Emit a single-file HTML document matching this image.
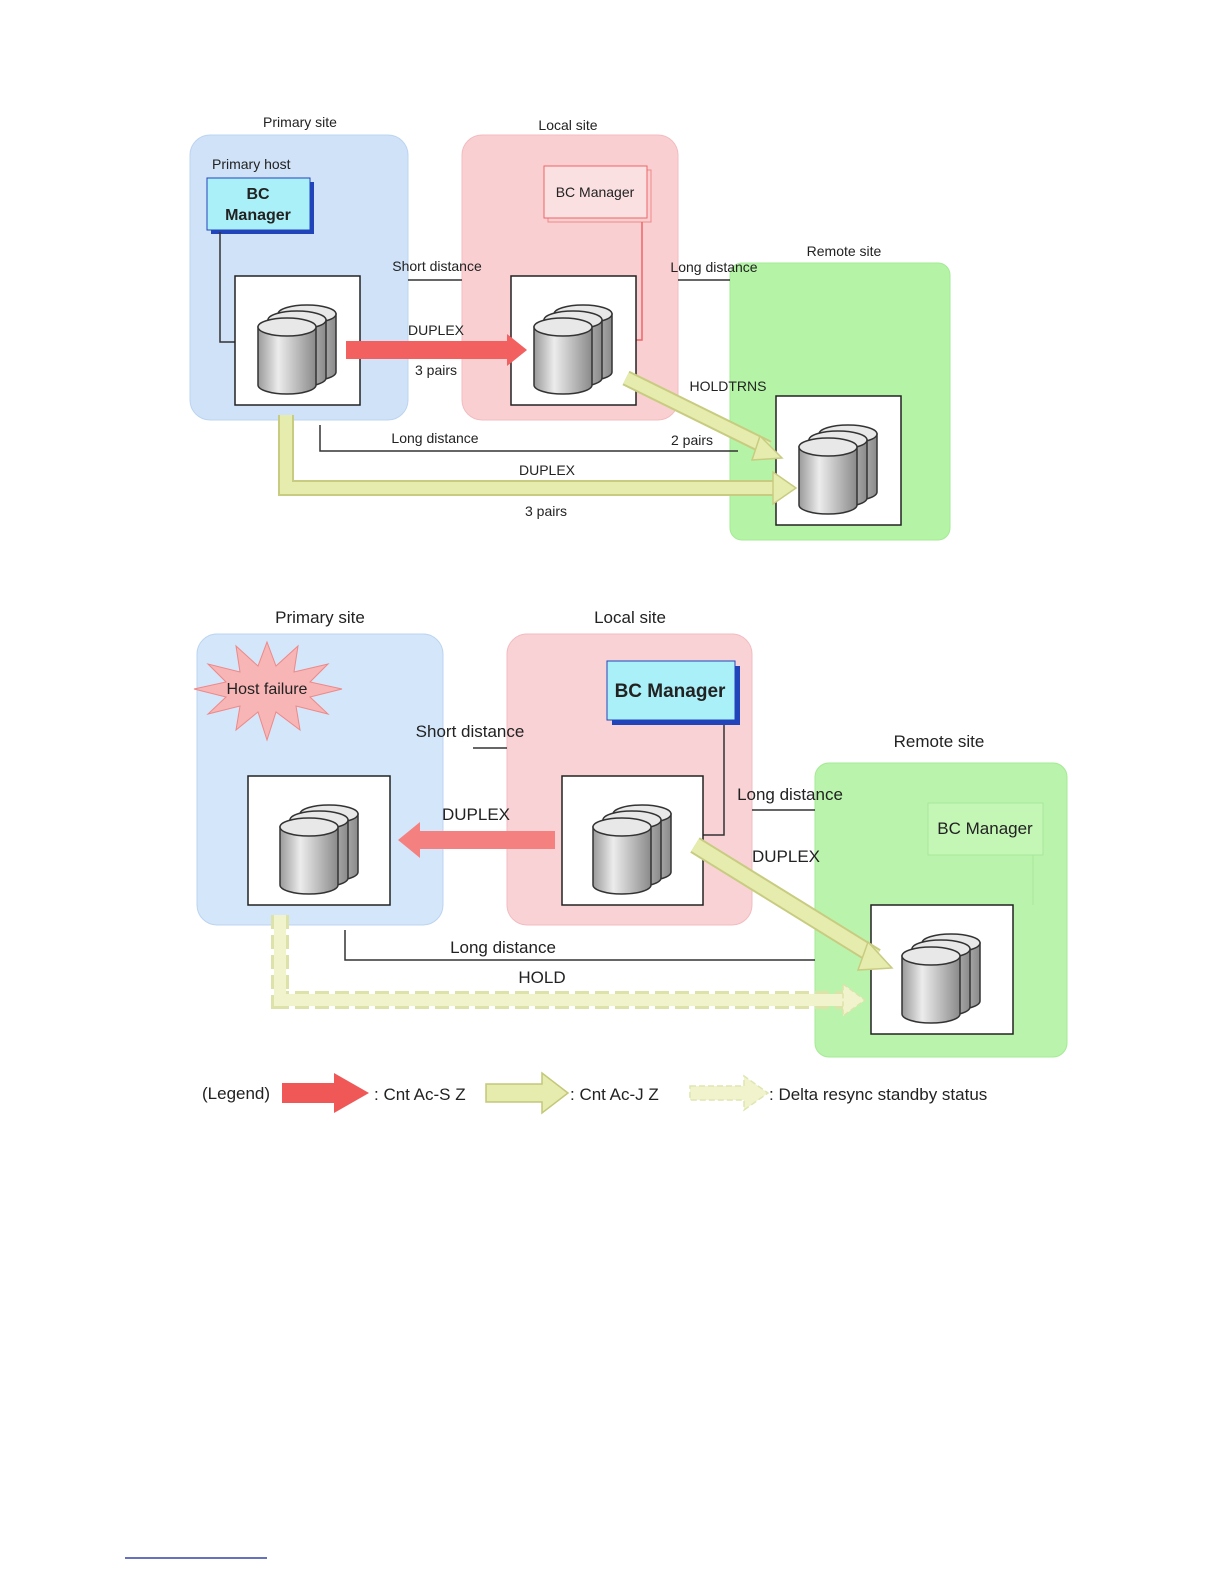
<!DOCTYPE html>
<html><head><meta charset="utf-8"><style>
html,body{margin:0;padding:0;background:#fff;overflow:hidden;width:1224px;height:1584px}
svg{display:block}
text{font-family:"Liberation Sans",sans-serif;fill:#222}
</style></head><body>
<svg width="1224" height="1584" viewBox="0 0 1224 1584" xmlns="http://www.w3.org/2000/svg">
<defs>
<linearGradient id="cg" x1="0" x2="1" y1="0" y2="0">
<stop offset="0" stop-color="#9a9a9a"/><stop offset="0.35" stop-color="#ececec"/><stop offset="1" stop-color="#8a8a8a"/>
</linearGradient>
<g id="cyl">
<path d="M0,0 L0,58 A29,9 0 0 0 58,58 L58,0 Z" fill="url(#cg)" stroke="#333" stroke-width="1.5"/>
<ellipse cx="29" cy="0" rx="29" ry="9" fill="#e8e8e8" stroke="#333" stroke-width="1.5"/>
</g>
<g id="disks">
<use href="#cyl" x="43" y="38"/>
<use href="#cyl" x="33" y="44"/>
<use href="#cyl" x="23" y="51"/>
</g>
</defs>

<!-- ===== TOP DIAGRAM ===== -->
<rect x="190" y="135" width="218" height="285" rx="20" fill="#cfe2f8" stroke="#bcd4f0"/>
<rect x="462" y="135" width="216" height="285" rx="20" fill="#f9cfd2" stroke="#f2bcc0"/>
<rect x="730" y="263" width="220" height="277" rx="12" fill="#b5f4a6" stroke="#a4ea94"/>
<text x="300" y="127" font-size="14" text-anchor="middle">Primary site</text>
<text x="568" y="130" font-size="14" text-anchor="middle">Local site</text>
<text x="844" y="256" font-size="14" text-anchor="middle">Remote site</text>
<text x="212" y="169" font-size="14">Primary host</text>
<rect x="211" y="182" width="103" height="52" fill="#2244bb"/>
<rect x="207" y="178" width="103" height="52" fill="#aaf0f8" stroke="#2244bb"/>
<text x="258" y="199" font-size="16" font-weight="bold" text-anchor="middle">BC</text>
<text x="258" y="220" font-size="16" font-weight="bold" text-anchor="middle">Manager</text>
<polyline points="220,232 220,342 235,342" fill="none" stroke="#333" stroke-width="1.5"/>
<rect x="548" y="170" width="103" height="52" fill="none" stroke="#e88"/>
<rect x="544" y="166" width="103" height="52" fill="#fbe0e2" stroke="#e66"/>
<text x="595" y="197" font-size="14" text-anchor="middle">BC Manager</text>
<polyline points="642,222 642,340 636,340" fill="none" stroke="#e66" stroke-width="1.5"/>

<rect x="235" y="276" width="125" height="129" fill="#fff" stroke="#222" stroke-width="1.5"/>
<use href="#disks" x="235" y="276"/>
<rect x="511" y="276" width="125" height="129" fill="#fff" stroke="#222" stroke-width="1.5"/>
<use href="#disks" x="511" y="276"/>
<rect x="776" y="396" width="125" height="129" fill="#fff" stroke="#222" stroke-width="1.5"/>
<use href="#disks" x="776" y="396"/>

<text x="437" y="271" font-size="14" text-anchor="middle">Short distance</text>
<line x1="408" y1="280" x2="462" y2="280" stroke="#333" stroke-width="1.5"/>
<text x="714" y="272" font-size="14" text-anchor="middle">Long distance</text>
<line x1="678" y1="280" x2="730" y2="280" stroke="#333" stroke-width="1.5"/>

<polygon points="346,341 507,341 507,334 527,350 507,366 507,359 346,359" fill="#f26060"/>
<text x="436" y="335" font-size="14" text-anchor="middle">DUPLEX</text>
<text x="436" y="375" font-size="14" text-anchor="middle">3 pairs</text>

<g>
<polyline points="626,378 768,448" fill="none" stroke="#c8cc80" stroke-width="16"/>
<polyline points="626,378 768,448" fill="none" stroke="#e6ebae" stroke-width="12"/>
<polygon points="760,436 782,458 752,460" fill="#e6ebae" stroke="#c8cc80" stroke-width="1.5"/>
</g>
<text x="728" y="391" font-size="14" text-anchor="middle">HOLDTRNS</text>
<text x="692" y="445" font-size="14" text-anchor="middle">2 pairs</text>

<text x="435" y="443" font-size="14" text-anchor="middle">Long distance</text>
<polyline points="320,425 320,451 738,451" fill="none" stroke="#333" stroke-width="1.5"/>
<polyline points="286,415 286,488 775,488" fill="none" stroke="#c8cc80" stroke-width="16"/>
<polyline points="286,415 286,488 775,488" fill="none" stroke="#e6ebae" stroke-width="12"/>
<polygon points="773,472 796,488 773,504" fill="#e6ebae" stroke="#c8cc80" stroke-width="1.5"/>
<text x="547" y="475" font-size="14" text-anchor="middle">DUPLEX</text>
<text x="546" y="516" font-size="14" text-anchor="middle">3 pairs</text>

<!-- ===== BOTTOM DIAGRAM ===== -->
<rect x="197" y="634" width="246" height="291" rx="20" fill="#d3e6fa" stroke="#bcd4f0"/>
<rect x="507" y="634" width="245" height="291" rx="20" fill="#f9d2d5" stroke="#f2bcc0"/>
<rect x="815" y="763" width="252" height="294" rx="14" fill="#baf4ac" stroke="#a4ea94"/>
<text x="320" y="623" font-size="17" text-anchor="middle">Primary site</text>
<text x="630" y="623" font-size="17" text-anchor="middle">Local site</text>
<text x="939" y="747" font-size="17" text-anchor="middle">Remote site</text>

<polygon points="267,642 276,666 298,646 294,672 328,664 310,682 342,689 310,697 328,714 296,706 300,730 276,712 267,740 258,712 236,730 240,706 208,714 226,697 194,689 226,682 208,664 240,672 236,646 258,666" fill="#f8b5b5" stroke="#e88" stroke-width="1"/>
<text x="267" y="694" font-size="16" text-anchor="middle">Host failure</text>

<rect x="612" y="666" width="128" height="59" fill="#2244bb"/>
<rect x="607" y="661" width="128" height="59" fill="#aaf0f8" stroke="#2244bb"/>
<text x="670" y="697" font-size="19" font-weight="bold" text-anchor="middle">BC Manager</text>
<polyline points="724,725 724,835 703,835" fill="none" stroke="#333" stroke-width="1.5"/>

<rect x="928" y="803" width="115" height="52" fill="#c4f6b6" stroke="#a8e89a"/>
<text x="985" y="834" font-size="17" text-anchor="middle">BC Manager</text>
<line x1="1033" y1="855" x2="1033" y2="905" stroke="#a8e89a"/>

<rect x="248" y="776" width="142" height="129" fill="#fff" stroke="#222" stroke-width="1.5"/>
<use href="#disks" x="257" y="776"/>
<rect x="562" y="776" width="141" height="129" fill="#fff" stroke="#222" stroke-width="1.5"/>
<use href="#disks" x="570" y="776"/>
<rect x="871" y="905" width="142" height="129" fill="#fff" stroke="#222" stroke-width="1.5"/>
<use href="#disks" x="879" y="905"/>

<text x="470" y="737" font-size="17" text-anchor="middle">Short distance</text>
<line x1="473" y1="748" x2="507" y2="748" stroke="#333" stroke-width="1.5"/>
<text x="790" y="800" font-size="17" text-anchor="middle">Long distance</text>
<line x1="752" y1="810" x2="815" y2="810" stroke="#333" stroke-width="1.5"/>

<polygon points="555,831 420,831 420,822 398,840 420,858 420,849 555,849" fill="#f58080"/>
<text x="476" y="820" font-size="17" text-anchor="middle">DUPLEX</text>

<polyline points="695,845 876,957" fill="none" stroke="#c8cc80" stroke-width="18"/>
<polyline points="695,845 876,957" fill="none" stroke="#e6ebae" stroke-width="14"/>
<polygon points="868,942 892,968 858,970" fill="#e6ebae" stroke="#c8cc80" stroke-width="1.5"/>
<text x="786" y="862" font-size="17" text-anchor="middle">DUPLEX</text>

<text x="503" y="953" font-size="17" text-anchor="middle">Long distance</text>
<polyline points="345,930 345,960 815,960" fill="none" stroke="#333" stroke-width="1.5"/>
<text x="542" y="983" font-size="17" text-anchor="middle">HOLD</text>
<polyline points="280,915 280,1000 845,1000" fill="none" stroke="#dde3a8" stroke-width="18" stroke-dasharray="14,6"/>
<polyline points="280,915 280,1000 845,1000" fill="none" stroke="#f0f3cc" stroke-width="12"/>
<polygon points="843,984 865,1000 843,1016" fill="#f0f3cc" stroke="#dde3a8" stroke-width="1.5" stroke-dasharray="5,3"/>

<!-- legend -->
<text x="202" y="1099" font-size="17">(Legend)</text>
<polygon points="282,1083 334,1083 334,1073 369,1093 334,1113 334,1103 282,1103" fill="#f05858"/>
<text x="374" y="1100" font-size="17">: Cnt Ac-S Z</text>
<polygon points="486,1084 542,1084 542,1073 568,1093 542,1113 542,1102 486,1102" fill="#e6ebae" stroke="#c4c878" stroke-width="1.5"/>
<text x="570" y="1100" font-size="17">: Cnt Ac-J Z</text>
<polygon points="690,1086 744,1086 744,1076 768,1093 744,1110 744,1100 690,1100" fill="#f0f3cc" stroke="#e0e6b0" stroke-width="1.5" stroke-dasharray="6,3"/>
<text x="769" y="1100" font-size="17">: Delta resync standby status</text>

<line x1="125" y1="1558" x2="267" y2="1558" stroke="#3344aa" stroke-width="1.5"/>
</svg>
</body></html>
